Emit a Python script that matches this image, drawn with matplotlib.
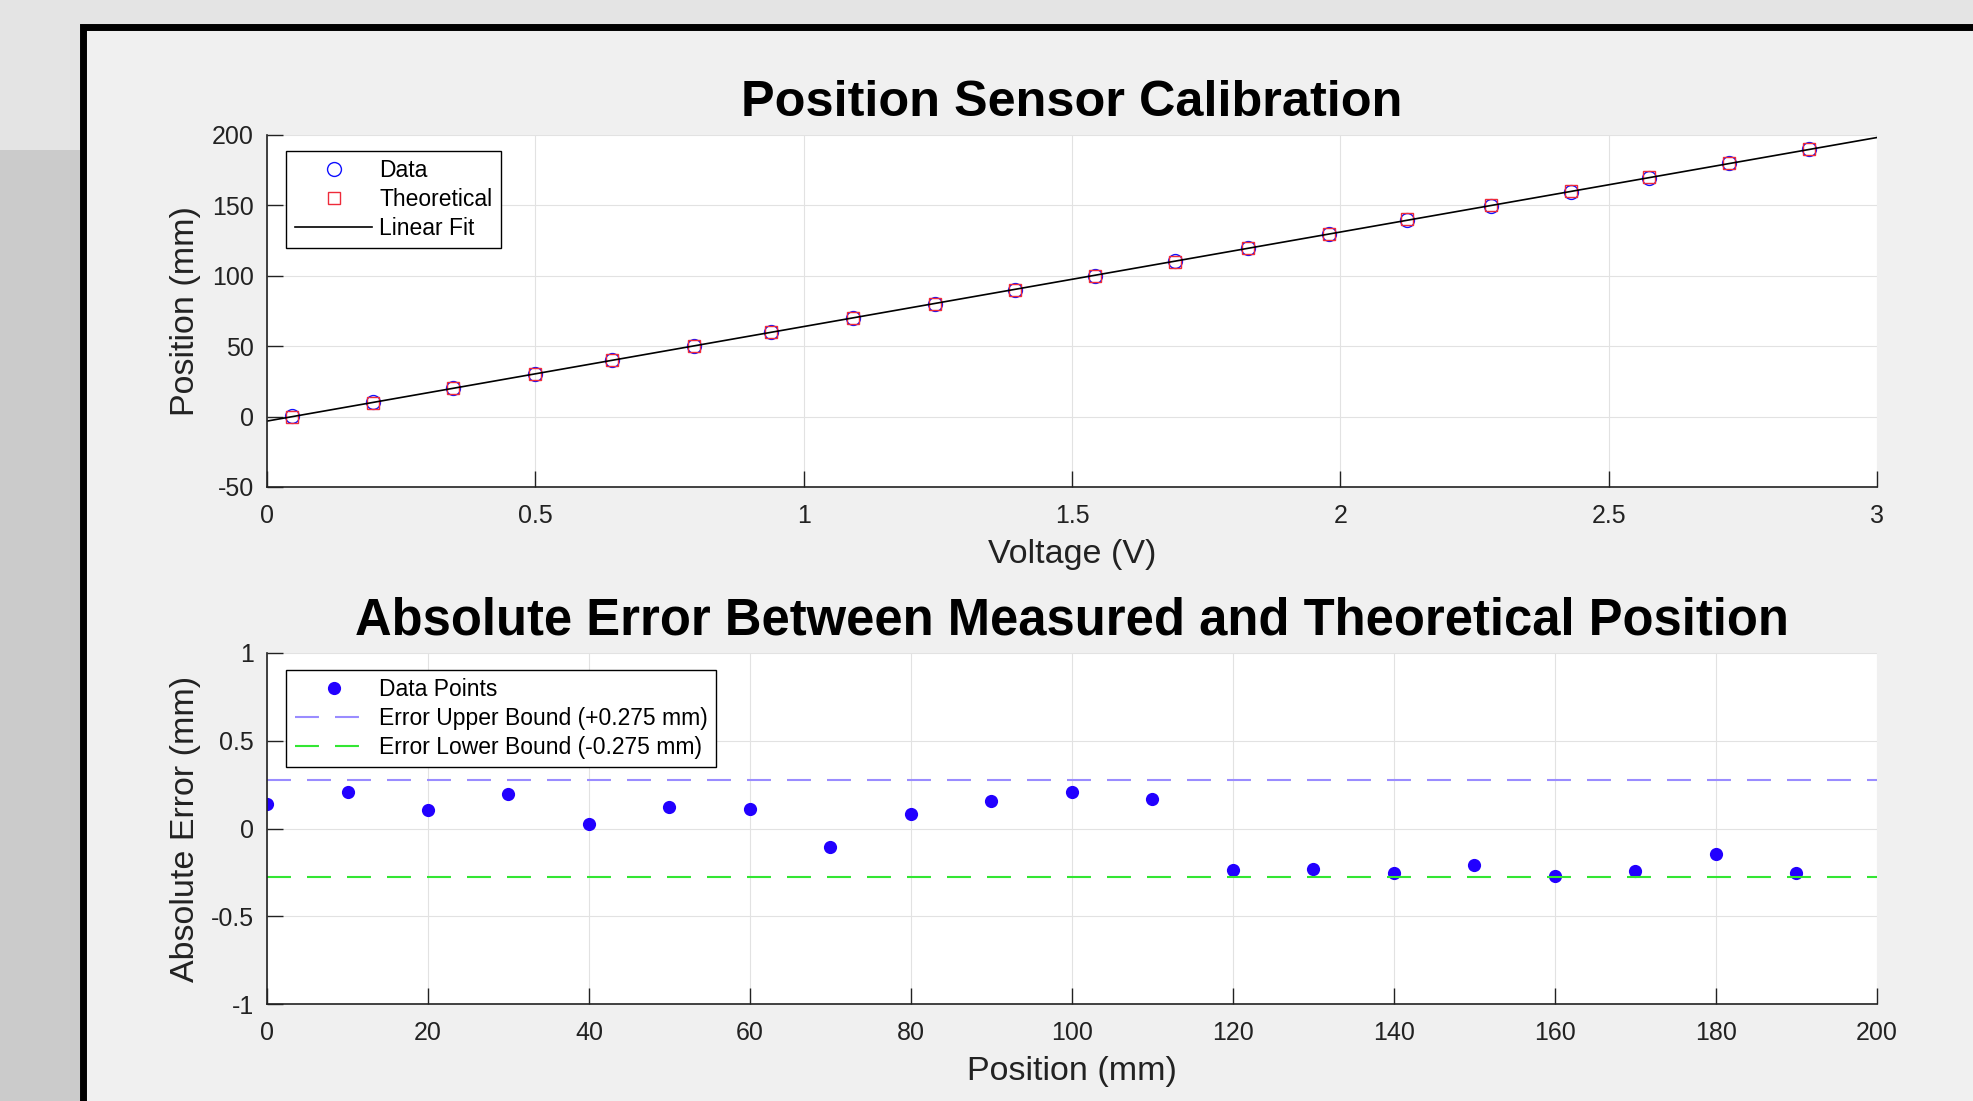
import numpy as np
import matplotlib
matplotlib.use('Agg')
import matplotlib.pyplot as plt
from matplotlib.patches import Rectangle
from matplotlib.ticker import FuncFormatter, MultipleLocator

# ---- data ----
voltage = [0.047, 0.197, 0.347, 0.500, 0.642, 0.795, 0.940, 1.091, 1.244, 1.393,
           1.543, 1.692, 1.828, 1.979, 2.125, 2.280, 2.429, 2.575, 2.724, 2.874]
position_theoretical = [0, 10, 20, 30, 40, 50, 60, 70, 80, 90,
                        100, 110, 120, 130, 140, 150, 160, 170, 180, 190]
abs_error = [0.139, 0.210, 0.103, 0.199, 0.024, 0.125, 0.110, -0.103, 0.081, 0.157,
             0.207, 0.167, -0.238, -0.230, -0.253, -0.209, -0.272, -0.243, -0.144, -0.255]
upper_bound = 0.275
lower_bound = -0.275

plt.rcParams['font.family'] = ['Liberation Sans', 'DejaVu Sans']
plt.rcParams['axes.unicode_minus'] = False

W, H = 1974, 1101
fig = plt.figure(figsize=(W / 100, H / 100), dpi=100, facecolor='#e4e4e4')

# photo background + black monitor frame
fig.patches.append(Rectangle((0, 0), 80 / W, 1 - 150 / H, transform=fig.transFigure,
                             facecolor='#cbcbcb', edgecolor='none', zorder=-3))
fig.patches.append(Rectangle((83.5 / W, -0.05), 1.0, 1 - 27 / H + 0.05,
                             transform=fig.transFigure, facecolor='#f0f0f0',
                             edgecolor='black', linewidth=5.0, zorder=-2))

ax1 = fig.add_axes([267 / W, 1 - 487 / H, 1610 / W, 352 / H])
ax2 = fig.add_axes([267 / W, 1 - 1004 / H, 1610 / W, 351 / H])

fmt = FuncFormatter(lambda v, p: '%g' % v)
for ax in (ax1, ax2):
    ax.set_facecolor('white')
    for s in ('top', 'right'):
        ax.spines[s].set_visible(False)
    for s in ('left', 'bottom'):
        ax.spines[s].set_color('#222222')
        ax.spines[s].set_linewidth(1.2)
    ax.grid(True, color='#e2e2e2', linewidth=0.8)
    ax.set_axisbelow(True)
    ax.tick_params(direction='in', length=11.5, width=1.0, labelsize=18,
                   colors='#222222')
    ax.tick_params(axis='y', pad=9.5)
    ax.tick_params(axis='x', pad=12)
    ax.xaxis.set_major_formatter(fmt)
    ax.yaxis.set_major_formatter(fmt)

# ---- top: calibration ----
measured = np.array(position_theoretical) + np.array(abs_error)
ax1.plot(voltage, measured, 'o', mfc='none', mec='#1010ff', ms=10, mew=1.0, label='Data')
ax1.plot(voltage, position_theoretical, 's', mfc='none', mec='#ee2a3a', ms=8.5, mew=1.0,
         label='Theoretical')
coef = np.polyfit(voltage, measured, 1)
ax1.set_xlim(0, 3)
vfit = np.array(ax1.get_xlim())
ax1.plot(vfit, np.polyval(coef, vfit), '-', color='black', lw=1.2, label='Linear Fit')
ax1.set_ylim(-50, 200)
ax1.xaxis.set_major_locator(MultipleLocator(0.5))
ax1.yaxis.set_major_locator(MultipleLocator(50))
ax1.set_title('Position Sensor Calibration', fontsize=36.3, fontweight='bold', pad=13.5)
ax1.set_xlabel('Voltage (V)', fontsize=24.5, color='#222222')
ax1.set_ylabel('Position (mm)', fontsize=24.5, color='#222222')
ax1.xaxis.set_label_coords(0.5, -0.148)
ax1.yaxis.set_label_coords(-0.041, 0.5)

leg_kw = dict(loc='upper left', fontsize=16.5, handlelength=3.4, handletextpad=0.3,
              borderpad=0.36, labelspacing=0.25, borderaxespad=0, fancybox=False,
              framealpha=1, edgecolor='black', numpoints=1)
l1 = ax1.legend(bbox_to_anchor=(0.012, 0.955), **leg_kw)
l1.get_frame().set_linewidth(1.0)

# ---- bottom: error ----
ax2.plot(position_theoretical, abs_error, 'o', color='#2200ff', mec='none', ms=9.5,
         label='Data Points')
ax2.axhline(upper_bound, color='#9a8cff', lw=1.5, dashes=(11.5, 7.7),
            label='Error Upper Bound (+0.275 mm)')
ax2.axhline(lower_bound, color='#33e633', lw=1.5, dashes=(11.5, 7.7),
            label='Error Lower Bound (-0.275 mm)')
ax2.set_xlim(0, 200)
ax2.set_ylim(-1, 1)
ax2.xaxis.set_major_locator(MultipleLocator(20))
ax2.yaxis.set_major_locator(MultipleLocator(0.5))
ax2.set_title('Absolute Error Between Measured and Theoretical Position', fontsize=36.5,
              fontweight='bold', pad=13)
ax2.set_xlabel('Position (mm)', fontsize=24.5, color='#222222')
ax2.set_ylabel('Absolute Error (mm)', fontsize=24.5, color='#222222')
ax2.xaxis.set_label_coords(0.5, -0.148)
ax2.yaxis.set_label_coords(-0.041, 0.5)
l2 = ax2.legend(bbox_to_anchor=(0.012, 0.952), **leg_kw)
l2.get_frame().set_linewidth(1.0)

fig.savefig('out.png', dpi=100, facecolor=fig.get_facecolor())
